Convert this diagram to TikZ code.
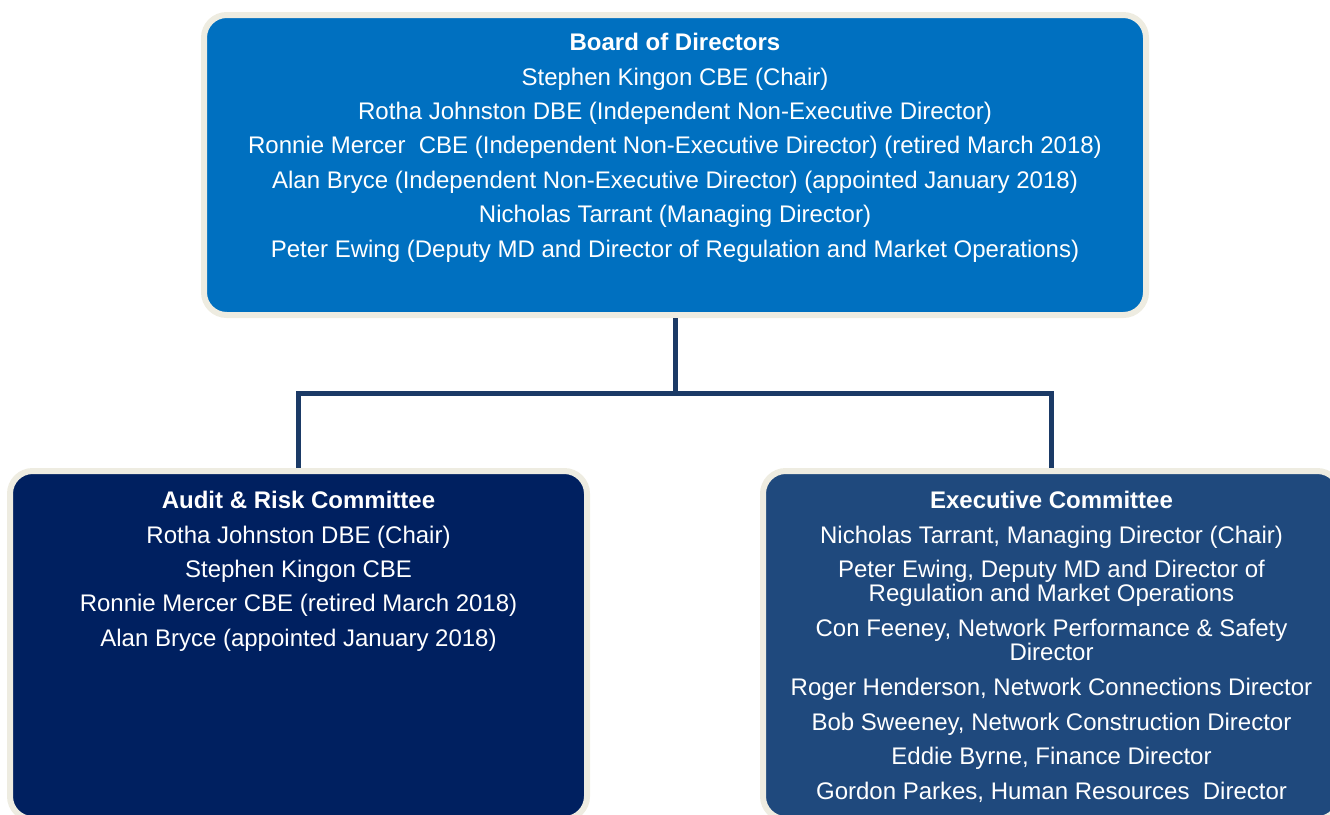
\documentclass[tikz,border=0pt]{standalone}
\usepackage{fontspec}
\setmainfont{Liberation Sans}
\usetikzlibrary{positioning}
\definecolor{boardblue}{HTML}{0070C0}
\definecolor{auditblue}{HTML}{002060}
\definecolor{execblue}{HTML}{1F497D}
\definecolor{rimcream}{HTML}{EEECE1}
\definecolor{linkblue}{HTML}{1B3A66}
\tikzset{
  panel/.style={draw=rimcream, line width=4.5pt, rounded corners=17pt,
    anchor=north west, inner sep=0pt, outer sep=2.25pt},
  paneltext/.style={text=white, align=center, inner sep=0pt,
    font=\fontsize{18pt}{18pt}\selectfont},
  link/.style={draw=linkblue, line width=3.75pt}
}
\begin{document}
\begin{tikzpicture}[x=0.75pt,y=-0.75pt]
\clip (0,0) rectangle (1330,814);
\node[panel, fill=boardblue, minimum width=706.5pt, minimum height=225pt] (board) at (201,12) {};
\node[panel, fill=auditblue, minimum width=432.75pt, minimum height=261pt] (audit) at (7,468) {};
\node[panel, fill=execblue, minimum width=432.75pt, minimum height=261pt] (exec) at (760,468) {};
\node[paneltext, below=15.75pt of board.north] (boardtext) {\textbf{Board of Directors}\\[7.8pt]
  Stephen Kingon CBE (Chair)\\[7.8pt]
  Rotha Johnston DBE (Independent Non-Executive Director)\\[7.8pt]
  Ronnie Mercer~ CBE (Independent Non-Executive Director) (retired March 2018)\\[7.8pt]
  Alan Bryce (Independent Non-Executive Director) (appointed January 2018)\\[7.8pt]
  Nicholas Tarrant (Managing Director)\\[7.8pt]
  Peter Ewing (Deputy MD and Director of Regulation and Market Operations)};
\node[paneltext, below=17.25pt of audit.north] (audittext) {\textbf{Audit \& Risk Committee}\\[7.8pt]
  Rotha Johnston DBE (Chair)\\[7.8pt]
  Stephen Kingon CBE\\[7.8pt]
  Ronnie Mercer CBE (retired March 2018)\\[7.8pt]
  Alan Bryce (appointed January 2018)};
\node[paneltext, below=17.25pt of exec.north] (exectext) {\textbf{Executive Committee}\\[7.8pt]
  Nicholas Tarrant, Managing Director (Chair)\\[7.8pt]
  Peter Ewing, Deputy MD and Director of\\
  Regulation and Market Operations\\[8.6pt]
  Con Feeney, Network Performance \& Safety\\
  Director\\[8.2pt]
  Roger Henderson, Network Connections Director\\[7.9pt]
  Bob Sweeney, Network Construction Director\\[7.9pt]
  Eddie Byrne, Finance Director\\[7.9pt]
  Gordon Parkes, Human Resources~ Director};
\draw[link] (board.south) -- ++(0,75) coordinate (fork);
\draw[link] (audit.north) |- (fork) -| (exec.north);
\end{tikzpicture}
\end{document}
